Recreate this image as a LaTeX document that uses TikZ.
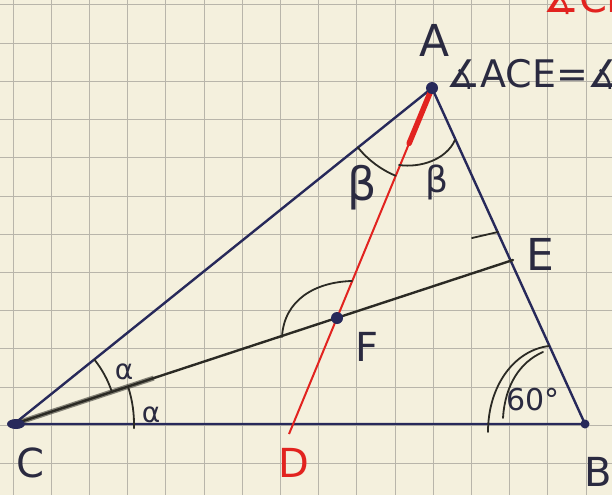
\documentclass[tikz,border=0pt]{standalone}
\usepackage{fontspec}
\setmainfont{DejaVu Sans}
\usetikzlibrary{calc}
\definecolor{paper}{HTML}{F4F0DD}
\definecolor{gridc}{HTML}{B8B5AA}
\definecolor{navy}{HTML}{27295A}
\definecolor{pen}{HTML}{2B2A24}
\definecolor{ink}{HTML}{2A2A40}
\definecolor{redpen}{HTML}{E2231F}
\begin{document}
\begin{tikzpicture}[x=1pt,y=-1pt,
  tri/.style={navy, line width=2.4pt, line cap=round},
  arcs/.style={pen, line width=1.8pt, line cap=round},
  lbl/.style={inner sep=0pt, text=ink, font=\fontsize{40}{40}\selectfont},
  small/.style={inner sep=0pt, text=ink, font=\fontsize{28}{28}\selectfont},
  dotn/.style={fill=navy, draw=none}]
\useasboundingbox (0,0) rectangle (612,495);
\clip (0,0) rectangle (612,495);
\fill[paper] (0,0) rectangle (612,495);
% graph paper
\foreach \i in {0,...,15} \draw[gridc, line width=1pt] (13+38.2*\i,0) -- (13+38.2*\i,495);
\foreach \j in {0,...,12} \draw[gridc, line width=1pt] (0,5+38.2*\j) -- (612,5+38.2*\j);
% points
\coordinate (A) at (432,88);
\coordinate (B) at (585,424);
\coordinate (C) at (14,424);
\coordinate (D) at (289,434);
\coordinate (E) at (513,260);
\coordinate (F) at (337,318);
% triangle
\draw[tri] (A) -- (B) -- (C) -- cycle;
% bisector CE
\draw[pen, line width=2.4pt, line cap=round] (C) -- (E);
\draw[pen, line width=5pt, opacity=0.55] (C) -- ($(C)!0.28!(E)$);
\draw[pen, line width=1.8pt, line cap=round] (472,238) -- (498,232);
% red line AD
\draw[redpen, line width=2pt] (A) -- (D);
\draw[redpen, line width=5.5pt, line cap=round] (A) -- ($(A)!0.16!(D)$);
% angle marks
\draw[arcs] ([shift={(-38.66:103)}]C) arc[start angle=-38.66, end angle=-18, radius=103];
\draw[arcs] ([shift={(-18:120)}]C) arc[start angle=-18, end angle=2, radius=120];
\draw[arcs] ([shift={(141.34:95)}]A) arc[start angle=141.34, end angle=112.52, radius=95];
\draw[arcs] (399,165) .. controls (420,168) and (446,160) .. (455,140);
\draw[arcs] (282,337) .. controls (284,300) and (315,282) .. (352,281);
\draw[arcs] (488,432) .. controls (488,385) and (515,350) .. (549,346);
\draw[arcs] (503,418) .. controls (505,385) and (520,362) .. (543,352);
% dots
\fill[dotn] (A) circle (6pt);
\fill[dotn] (F) circle (6pt);
\fill[dotn] (16,424) ellipse (9pt and 5pt);
\fill[dotn] (B) circle (4.5pt);
% labels
\node[lbl, font=\fontsize{44}{44}\selectfont] (lA) at (435,40) {A};
\node[lbl, font=\fontsize{38}{38}\selectfont, anchor=west] (eq) at (446,74) {∡ACE=∡};
\node[lbl, text=redpen, anchor=base west] (red) at (543,13) {∡CE};
\node[lbl] (lC) at (30,463) {C};
\node[lbl, text=redpen] (lD) at (294,463) {D};
\node[lbl] (lB) at (598,472) {B};
\node[lbl, font=\fontsize{44}{44}\selectfont] (lE) at (540,254) {E};
\node[lbl] (lF) at (367,347) {F};
\node[small] (a1) at (124,372) {α};
\node[small] (a2) at (151,415) {α};
\node[lbl, font=\fontsize{46}{46}\selectfont] (b1) at (362,188) {β};
\node[lbl, font=\fontsize{36}{36}\selectfont] (b2) at (437,182) {β};
\node[lbl, font=\fontsize{30}{30}\selectfont] (s60) at (533,400) {60°};
\end{tikzpicture}
\end{document}
